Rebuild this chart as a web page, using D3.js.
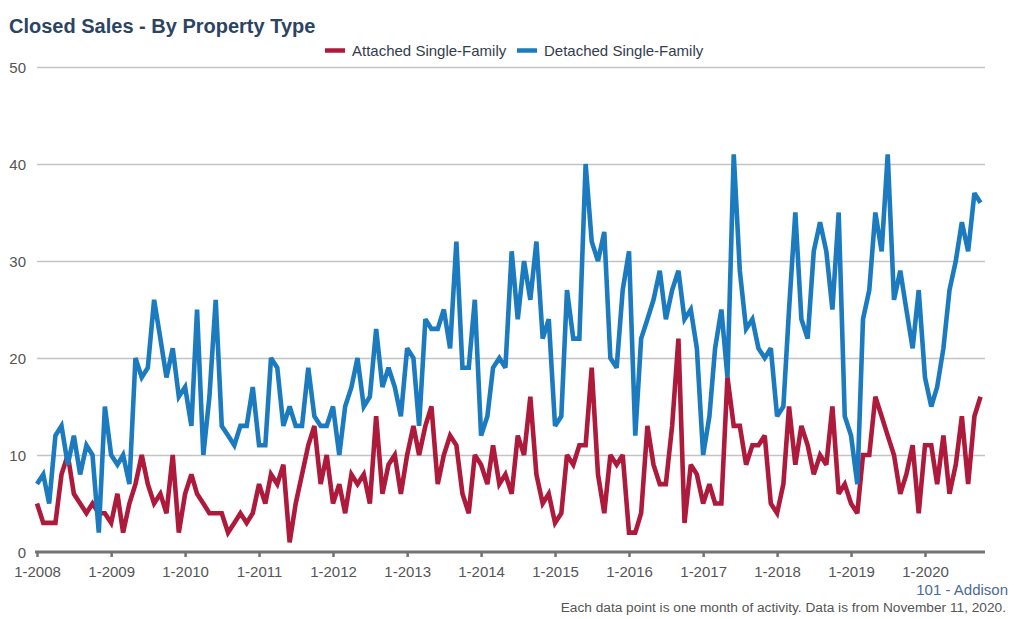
<!DOCTYPE html>
<html>
<head>
<meta charset="utf-8">
<script src="https://cdn.jsdelivr.net/npm/d3@7"></script>
<style>
  html, body { margin: 0; padding: 0; background: #fff; }
  svg { display: block; font-family: "Liberation Sans", Arial, sans-serif; }
</style>
</head>
<body>
<div id="container"></div>
<script>
// Monthly closed sales, 1-2008 .. 10-2020
const startYear = 2008;
const monthCount = 154;

const attached = [
  5, 3, 3, 3, 8, 10, 6, 5, 4, 5, 4, 4,
  3, 6, 2, 5, 7, 10, 7, 5, 6, 4, 10, 2,
  6, 8, 6, 5, 4, 4, 4, 2, 3, 4, 3, 4,
  7, 5, 8, 7, 9, 1, 5, 8, 11, 13, 7, 10,
  5, 7, 4, 8, 7, 8, 5, 14, 6, 9, 10, 6,
  10, 13, 10, 13, 15, 7, 10, 12, 11, 6, 4, 10,
  9, 7, 11, 7, 8, 6, 12, 10, 16, 8, 5, 6,
  3, 4, 10, 9, 11, 11, 19, 8, 4, 10, 9, 10,
  2, 2, 4, 13, 9, 7, 7, 13, 22, 3, 9, 8,
  5, 7, 5, 5, 18, 13, 13, 9, 11, 11, 12, 5,
  4, 7, 15, 9, 13, 11, 8, 10, 9, 15, 6, 7,
  5, 4, 10, 10, 16, 14, 12, 10, 6, 8, 11, 4,
  11, 11, 7, 12, 6, 9, 14, 7, 14, 16
];

const detached = [
  7, 8, 5, 12, 13, 9, 12, 8, 11, 10, 2, 15,
  10, 9, 10, 7, 20, 18, 19, 26, 22, 18, 21, 16,
  17, 13, 25, 10, 16, 26, 13, 12, 11, 13, 13, 17,
  11, 11, 20, 19, 13, 15, 13, 13, 19, 14, 13, 13,
  15, 10, 15, 17, 20, 15, 16, 23, 17, 19, 17, 14,
  21, 20, 13, 24, 23, 23, 25, 21, 32, 19, 19, 26,
  12, 14, 19, 20, 19, 31, 24, 30, 26, 32, 22, 24,
  13, 14, 27, 22, 22, 40, 32, 30, 33, 20, 19, 27,
  31, 12, 22, 24, 26, 29, 24, 27, 29, 24, 25, 21,
  10, 14, 21, 25, 18, 41, 29, 23, 24, 21, 20, 21,
  14, 15, 25, 35, 24, 22, 31, 34, 31, 25, 35, 14,
  12, 7, 24, 27, 35, 31, 41, 26, 29, 25, 21, 27,
  18, 15, 17, 21, 27, 30, 34, 31, 37, 36
];

const yTicks = [0, 10, 20, 30, 40, 50];
const xTickYears = [2008, 2009, 2010, 2011, 2012, 2013, 2014, 2015, 2016, 2017, 2018, 2019, 2020];

const seriesNames = ["Attached Single-Family", "Detached Single-Family"];
const seriesColors = ["#ae1a3b", "#1c7bbf"];

const width = 1020, height = 619;
const svg = d3.select('#container').append('svg')
  .attr('width', width)
  .attr('height', height);

const months = d3.range(monthCount).map(i => new Date(startYear, i, 1));

const x = d3.scaleTime()
  .domain([months[0], months[monthCount - 1]])
  .range([37, 980.5]);

const y = d3.scaleLinear()
  .domain([0, 50])
  .range([552, 67]);

// Title
svg.append('text')
  .attr('x', 9)
  .attr('y', 33)
  .attr('fill', '#2b4462')
  .attr('font-size', 20)
  .attr('font-weight', 'bold')
  .text('Closed Sales - By Property Type');

// Gridlines + y labels
const grid = svg.append('g');
grid.selectAll('line')
  .data(yTicks.filter(d => d > 0))
  .enter().append('line')
    .attr('x1', 37)
    .attr('x2', 985)
    .attr('y1', d => y(d) + 0.5)
    .attr('y2', d => y(d) + 0.5)
    .attr('stroke', '#c4c4c4')
    .attr('stroke-width', 1.3);

grid.selectAll('text')
  .data(yTicks)
  .enter().append('text')
    .attr('x', 26)
    .attr('y', d => y(d) + 5.5)
    .attr('text-anchor', 'end')
    .attr('fill', '#555')
    .attr('font-size', 15)
    .text(d => d);

// Lines
const line = d3.line()
  .x((d, i) => x(months[i]))
  .y(d => y(d));

[attached, detached].forEach((s, k) => {
  svg.append('path')
    .datum(s)
    .attr('fill', 'none')
    .attr('stroke', seriesColors[k])
    .attr('stroke-width', 4.6)
    .attr('stroke-linejoin', 'miter')
    .attr('stroke-miterlimit', 3)
    .attr('d', line);
});

// X axis
const xAxis = d3.axisBottom(x)
  .tickValues(xTickYears.map(yr => new Date(yr, 0, 1)))
  .tickFormat(d => '1-' + d.getFullYear())
  .tickSize(5)
  .tickSizeOuter(0);

const gx = svg.append('g')
  .attr('transform', 'translate(0,552)')
  .call(xAxis);
gx.select('.domain').remove();
gx.append('line')
  .attr('x1', 35)
  .attr('x2', 985)
  .attr('y1', 0)
  .attr('y2', 0)
  .attr('stroke', '#737373')
  .attr('stroke-width', 3);
gx.selectAll('.tick line')
  .attr('stroke', '#737373')
  .attr('stroke-width', 2.5);
gx.selectAll('.tick text')
  .attr('fill', '#555')
  .attr('font-size', 15)
  .attr('font-family', '"Liberation Sans", Arial, sans-serif')
  .attr('dy', '0')
  .attr('y', 24.5);

// Legend
const legend = svg.append('g');
const legendItems = [
  { name: seriesNames[0], color: seriesColors[0], x: 325 },
  { name: seriesNames[1], color: seriesColors[1], x: 517 }
];
legendItems.forEach(it => {
  legend.append('line')
    .attr('x1', it.x)
    .attr('x2', it.x + 20)
    .attr('y1', 50.5)
    .attr('y2', 50.5)
    .attr('stroke', it.color)
    .attr('stroke-width', 4.5);
  legend.append('text')
    .attr('x', it.x + 27)
    .attr('y', 56)
    .attr('fill', '#333d4d')
    .attr('font-size', 15)
    .text(it.name);
});

// Footer
svg.append('text')
  .attr('x', 1008)
  .attr('y', 594.5)
  .attr('text-anchor', 'end')
  .attr('fill', '#4a6b9a')
  .attr('font-size', 15)
  .text('101 - Addison');

svg.append('text')
  .attr('x', 1006)
  .attr('y', 611.5)
  .attr('text-anchor', 'end')
  .attr('fill', '#555')
  .attr('font-size', 13.7)
  .text('Each data point is one month of activity. Data is from November 11, 2020.');
</script>
</body>
</html>
